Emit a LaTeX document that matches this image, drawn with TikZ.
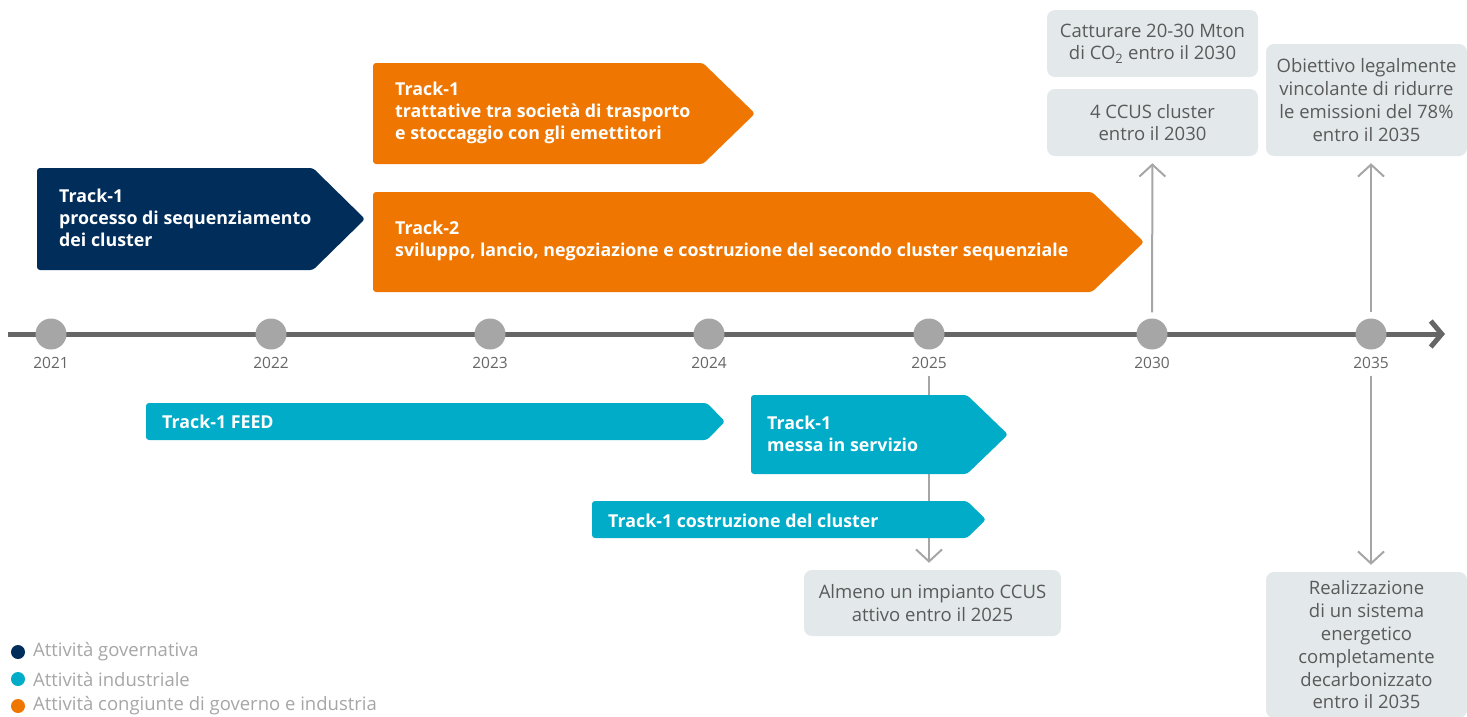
\documentclass[tikz,border=0pt]{standalone}
\usepackage{fontspec}
\setmainfont{Open Sans}
\usetikzlibrary{arrows.meta}
\definecolor{navy}{HTML}{002D5A}
\definecolor{orng}{HTML}{EE7601}
\definecolor{cyn}{HTML}{00ACC8}
\definecolor{boxg}{HTML}{E3E9EB}
\definecolor{axisg}{HTML}{666666}
\definecolor{dotg}{HTML}{A6A6A6}
\definecolor{txtg}{HTML}{5A5A5A}
\newcommand\chevshape[6]{\fill[#6, rounded corners=3pt] (#1,#2) -- (#5,#2) -- (#3,{(#2+#4)/2}) -- (#5,#4) -- (#1,#4) -- cycle;}
\tikzset{
  yeardot/.style={circle, fill=dotg, minimum size=31pt, inner sep=0pt},
  yearlbl/.style={text=axisg, font=\fontsize{15.5}{18}\selectfont, inner sep=0pt},
  gbox/.style={fill=boxg, rounded corners=8pt, text=txtg, align=center, inner sep=0pt,
     font=\fontsize{18.5}{22.8}\selectfont},
  trk/.style={text=white, align=left, inner sep=0pt, anchor=west,
     font=\bfseries\fontsize{17.8}{22.3}\selectfont},
  conn/.style={draw=dotg, line width=2pt, -{Straight Barb[length=12pt,width=26pt]}},
  legdot/.style={circle, minimum size=14pt, inner sep=0pt},
  legtxt/.style={text=dotg, anchor=west, inner sep=0pt, font=\fontsize{18.5}{20}\selectfont}
}
\begin{document}
\begin{tikzpicture}[x=1pt,y=-1pt]
\useasboundingbox (0,0) rectangle (1467,716);
% axis
\coordinate (axs) at (8,334);
\coordinate (axe) at (1445,334);
\draw[axisg, line width=5pt, -{Straight Barb[length=11pt,width=26pt]}] (axs) -- (axe);
% year dots and labels
\foreach \yr/\xx in {2021/51,2022/271,2023/490,2024/709,2025/929,2030/1152,2035/1371}{
  \node[yeardot] (d\yr) at (\xx,334) {};
  \node[yearlbl] (y\yr) at (\xx,363) {\yr};
}
% grey boxes
\node[gbox, minimum width=211pt, minimum height=67pt] (bcat) at (1152.5,43.5)
  {Catturare 20-30 Mton\\di CO\textsubscript{2} entro il 2030};
\node[gbox, minimum width=211pt, minimum height=67pt] (bccus) at (1152.5,122.5)
  {4 CCUS cluster\\entro il 2030};
\node[gbox, minimum width=201pt, minimum height=112pt] (bobj) at (1366.5,100)
  {Obiettivo legalmente\\vincolante di ridurre\\le emissioni del 78\%\\entro il 2035};
\node[gbox, minimum width=257pt, minimum height=66pt] (balm) at (932.5,603)
  {Almeno un impianto CCUS\\attivo entro il 2025};
\node[gbox, minimum width=201pt, minimum height=146pt] (breal) at (1366.5,645)
  {Realizzazione\\di un sistema\\energetico\\completamente\\decarbonizzato\\entro il 2035};
% connectors
\draw[conn, shorten <=6pt, shorten >=7pt] (d2030) -- (bccus);
\draw[conn, shorten <=6pt, shorten >=7pt] (d2035) -- (d2035 |- bobj.south);
\draw[conn, shorten <=26pt, shorten >=7pt] (d2025) -- (d2025 |- balm.north);
\draw[conn, shorten <=26pt, shorten >=7pt] (d2035) -- (d2035 |- breal.north);
% chevrons
\chevshape{37}{168}{365}{270}{313}{navy}
\node[trk] (tnavy) at (59,218) {Track-1\\processo di sequenziamento\\dei cluster};
\chevshape{373}{63}{755}{164}{703}{orng}
\node[trk] (tor1) at (395,113) {Track-1\\trattative tra società di trasporto\\e stoccaggio con gli emettitori};
\chevshape{373}{192}{1144}{292}{1092}{orng}
\node[trk] (tor2) at (395,241) {Track-2\\sviluppo, lancio, negoziazione e costruzione del secondo cluster sequenziale};
\chevshape{146}{403}{725}{440}{707}{cyn}
\node[trk] (tfeed) at (162,422) {Track-1 FEED};
\chevshape{751}{395}{1008}{474}{967}{cyn}
\node[trk] (tmessa) at (767,433.5) {Track-1\\messa in servizio};
\chevshape{592}{501}{986}{538}{967}{cyn}
\node[trk] (tcost) at (608,521) {Track-1 costruzione del cluster};
% legend
\node[legdot, fill=navy] (l1) at (18,652) {};
\node[legtxt] (lt1) at (33,652) {Attività governativa};
\node[legdot, fill=cyn] (l2) at (18,679) {};
\node[legtxt] (lt2) at (33,679) {Attività industriale};
\node[legdot, fill=orng] (l3) at (18,706) {};
\node[legtxt] (lt3) at (33,706) {Attività congiunte di governo e industria};
\end{tikzpicture}
\end{document}
